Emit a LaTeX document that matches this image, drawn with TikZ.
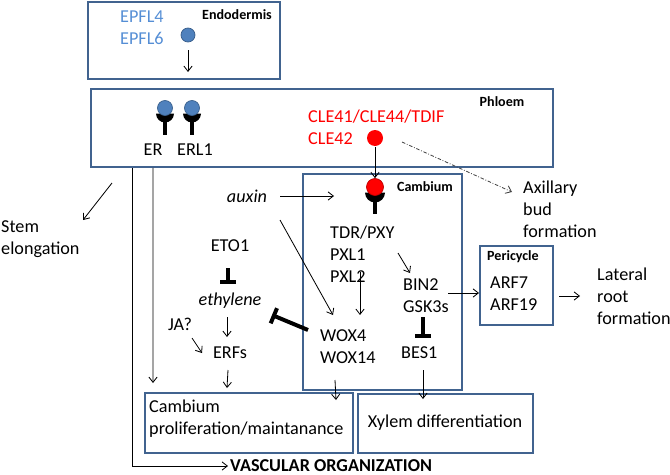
\documentclass[tikz,border=0pt]{standalone}
\usepackage{fontspec}
\setmainfont{Carlito}
\usepackage{xcolor}
\usepackage{tikz}
\usetikzlibrary{arrows.meta,calc}
\definecolor{boxBlue}{HTML}{41638F}
\definecolor{epflBlue}{HTML}{558ED5}
\definecolor{dotBlue}{HTML}{4F81BD}
\definecolor{dotEdge}{HTML}{385D8A}
\tikzstyle{tsText} = [
    inner sep=0pt,
    text=black,
    font=\fontsize{15.5}{18.7}\selectfont
]
\tikzstyle{tsMulti} = [
    tsText,
    align=left
]
\tikzstyle{tsTitle} = [
    inner sep=0pt,
    text=black,
    font=\fontsize{12}{14}\selectfont\bfseries
]
\tikzstyle{tsBox} = [
    rectangle,
    draw=boxBlue,
    line width=1.7pt,
    inner sep=0pt,
    fill=none]
\tikzstyle{tsArrow} = [
    line width=0.7pt,
    -{Straight Barb[length=4.5pt,width=7pt]}]
\tikzstyle{tsInhibit} = [
    line width=3.4pt,
    -{Bar[width=14pt]}]
\tikzstyle{tsDashDot} = [
    tsArrow,
    draw=black!75,
    dash pattern=on 3pt off 1.5pt on 0.7pt off 1.5pt]
% receptor: name, x, y, radius, colour
\newcommand{\drawReceptor}[5]{%
    \fill[black] ({#2-#4-1.5},{#3+5.5}) arc[start angle=180, end angle=0, radius=#4+1.5] -- cycle;
    \fill[black] ({#2-2.4},{#3+10}) rectangle ({#2+2.4},{#3+27});
    \node[circle, fill=#5, draw=#5!75!black, line width=0.6pt, inner sep=0pt,
          minimum size=2*#4*0.03cm] (#1) at (#2,#3) {};
}

\begin{document}
\begin{tikzpicture}[x=0.03cm, y=-0.03cm]
    \useasboundingbox (0,0) rectangle (670,475);

    % compartments
    \node[tsBox, minimum width=5.76cm, minimum height=2.31cm] (endo) at (184,40.5) {};
    \node[tsBox, minimum width=13.86cm, minimum height=2.34cm] (phloem) at (322,128) {};
    \node[tsBox, minimum width=4.77cm, minimum height=6.48cm] (camBox) at (382.5,282) {};
    \node[tsBox, minimum width=2.19cm, minimum height=2.37cm] (pericycle) at (516.5,285.5) {};
    \node[tsBox, minimum width=6.24cm, minimum height=1.8cm] (prolif) at (249,423) {};
    \node[tsBox, minimum width=5.25cm, minimum height=1.77cm] (xylem) at (445.5,423.5) {};

    \node[tsTitle] (endoTitle) at (237,15) {Endodermis};
    \node[tsTitle] (phloemTitle) at (502,102) {Phloem};
    \node[tsTitle] (camTitle) at (425,187) {Cambium};
    \node[tsTitle] (periTitle) at (513,257) {Pericycle};

    % peptides and receptors
    \node[circle, fill=dotBlue, draw=dotEdge, line width=0.6pt, inner sep=0pt,
          minimum size=0.42cm] (epflDot) at (188,35) {};
    \node[circle, fill=red, inner sep=0pt, minimum size=0.48cm] (cleDot) at (375,138) {};
    \drawReceptor{erDot}{165}{108}{7.5}{dotBlue}
    \drawReceptor{erl1Dot}{192}{108}{7.5}{dotBlue}
    \drawReceptor{camDot}{375}{187}{8.5}{red}

    % labels
    \node[tsMulti, text=epflBlue, anchor=west] (epfl) at (120,28) {EPFL4\\EPFL6};
    \node[tsMulti, text=red, anchor=west] (cle) at (308,127.5) {CLE41/CLE44/TDIF\\CLE42};
    \node[tsText] (erLabel) at (153,150) {ER};
    \node[tsText] (erl1Label) at (195,150) {ERL1};
    \node[tsMulti, anchor=west] (axillary) at (523,209) {Axillary\\bud\\formation};
    \node[tsMulti, anchor=west] (stem) at (1,239) {Stem\\elongation};
    \node[tsText] (auxin) at (247,196) {\itshape auxin};
    \node[tsText] (eto) at (230,246) {ETO1};
    \node[tsText] (eth) at (230,301) {\itshape ethylene};
    \node[tsText] (ja) at (180,324) {JA?};
    \node[tsText] (erfs) at (230,353) {ERFs};
    \node[tsMulti, anchor=west] (tdr) at (330,254) {TDR/PXY\\PXL1\\PXL2};
    \node[tsMulti, anchor=west] (bin) at (403,296) {BIN2\\GSK3s};
    \node[tsText, anchor=west] (bes) at (401,353) {BES1};
    \node[tsMulti, anchor=west] (wox) at (320,347) {WOX4\\WOX14};
    \node[tsMulti, anchor=west] (arf) at (490,294) {ARF7\\ARF19};
    \node[tsMulti, anchor=west] (lateral) at (597,296) {Lateral\\root\\formation};
    \node[tsMulti, anchor=west] (prolifText) at (149,419) {Cambium\\proliferation/maintanance};
    \node[tsText] (xylemText) at (445,423) {Xylem differentiation};
    \node[tsText, font=\fontsize{15.5}{18}\selectfont\bfseries, anchor=west] (vascular) at (230,466) {VASCULAR ORGANIZATION};

    % connectors
    \draw[tsArrow] ($(epflDot)+(0,15)$) -- ($(epflDot)+(0,37)$);
    \draw[tsArrow] ($(cleDot)+(0,9)$) -- (camDot.north);
    \draw[tsDashDot] ($(cleDot)+(27,4)$) -- ($(axillary.west)+(-11,-17)$);
    \draw[tsArrow] ($(phloem.south west)+(22,15)$) -- ($(stem.west)+(82,-19)$);
    \draw[tsArrow] ($(phloem.south west)+(42,0)$) |- ($(vascular.west)+(-2,0)$);
    \draw[tsArrow] ($(phloem.south west)+(63,0)$) -- ($(prolif.north west)+(9,-9)$);
    \draw[tsArrow] ($(auxin)+(33,0)$) -- ($(camBox.west)+(32,-86)$);
    \draw[tsArrow] ($(auxin)+(33,24)$) -- ($(wox.west)+(13,-32)$);
    \draw[tsArrow] ($(tdr.west)+(30,18)$) -- ($(wox.west)+(40,-32)$);
    \draw[tsArrow] ($(tdr.west)+(68,-1)$) -- ($(bin.west)+(7,-23)$);
    \draw[tsArrow] ($(bin.west)+(45,-3)$) -- ($(pericycle.west)+(0,7.5)$);
    \draw[tsInhibit] ($(bin.west)+(20,21)$) -- ($(bes.west)+(22,-15)$);
    \draw[tsArrow] ($(bes.west)+(22,17)$) -- ($(xylem.north)+(-22.5,6)$);
    \draw[tsArrow] ($(wox.west)+(15,33)$) -- ($(prolif.north east)+(-18,8)$);
    \draw[tsInhibit] ($(wox.west)+(-12,-17)$) -- ($(eth)+(42,14)$);
    \draw[tsInhibit] ($(eto)+(-2,22)$) -- ($(eth)+(-2,-17)$);
    \draw[tsArrow] ($(eth)+(-3,16)$) -- ($(erfs)+(-3,-16)$);
    \draw[tsArrow] ($(ja)+(12,14)$) -- ($(erfs)+(-28,0)$);
    \draw[tsArrow] ($(erfs)+(-2,17)$) -- ($(prolif.north west)+(83,-4)$);
    \draw[tsArrow] ($(pericycle.east)+(5,10.5)$) -- ($(lateral.west)+(-17,0)$);

\end{tikzpicture}
\end{document}
